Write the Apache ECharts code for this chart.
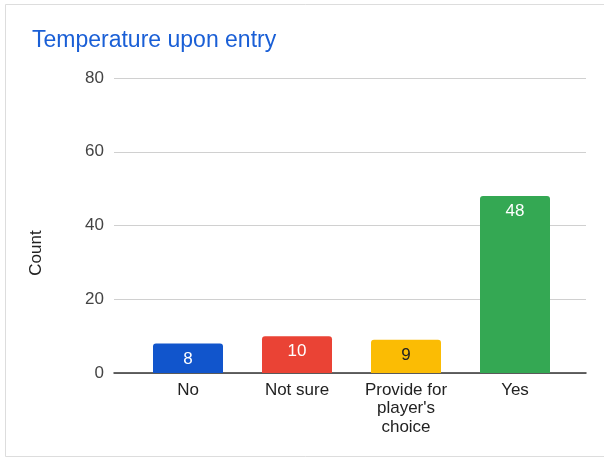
<!DOCTYPE html>
<html><head><meta charset="utf-8">
<script src="https://cdn.jsdelivr.net/npm/echarts@6/dist/echarts.min.js"></script>
<style>html,body{margin:0;padding:0;background:#fff}#c{width:604px;height:458px}</style>
</head><body><div id="c"></div>
<script>
const titleText = 'Temperature upon entry';
const categories = ['No', 'Not sure', "Provide for\nplayer's\nchoice", 'Yes'];
const counts = [8, 10, 9, 48];
const barColors = ['#1155cc', '#ea4335', '#fbbc04', '#34a853'];
const labelColors = ['#ffffff', '#ffffff', '#222222', '#ffffff'];
const yTicks = [0, 20, 40, 60, 80];
const yName = 'Count';

const chart = echarts.init(document.getElementById('c'), null, {renderer: 'canvas'});
const font = '"Liberation Sans", Arial, sans-serif';
chart.setOption({
  animation: false,
  backgroundColor: '#fff',
  textStyle: {fontFamily: font},
  title: {text: titleText, left: 27, top: 24,
    textStyle: {color: '#1a5fd6', fontSize: 23, fontWeight: 'normal', fontFamily: font}},
  graphic: [
    {type: 'rect', shape: {x: 5.5, y: 4.5, width: 610, height: 452},
      style: {fill: 'none', stroke: '#dddddd', lineWidth: 1}, silent: true},
    {type: 'text', x: 36, y: 253, rotation: Math.PI / 2,
      style: {text: yName, fill: '#222', font: '17px ' + font, textAlign: 'center', textVerticalAlign: 'middle'}}
  ],
  grid: [
    {left: 114, right: 18, top: 78, bottom: 85},
    {left: 133.5, right: 34.5, top: 78, bottom: 85}
  ],
  xAxis: [
    {gridIndex: 0, type: 'category', data: categories,
      axisLine: {show: true, lineStyle: {color: '#333', width: 1.5}},
      axisTick: {show: false}, axisLabel: {show: false}},
    {gridIndex: 1, type: 'category', data: categories,
      axisLine: {show: false}, axisTick: {show: false},
      axisLabel: {color: '#222', fontSize: 17, margin: 8, lineHeight: 18.5, fontFamily: font, interval: 0}}
  ],
  yAxis: [
    {gridIndex: 0, type: 'value', min: yTicks[0], max: yTicks[yTicks.length - 1], interval: 20,
      axisLine: {show: false}, axisTick: {show: false},
      axisLabel: {color: '#444', fontSize: 17, margin: 10, fontFamily: font},
      splitLine: {lineStyle: {color: '#d0d0d0', width: 1}}},
    {gridIndex: 1, type: 'value', min: yTicks[0], max: yTicks[yTicks.length - 1], interval: 20,
      show: false, splitLine: {show: false}}
  ],
  series: [{
    type: 'bar', xAxisIndex: 1, yAxisIndex: 1, barWidth: 70,
    data: counts.map((v, i) => ({value: v,
      itemStyle: {color: barColors[i], borderRadius: [3, 3, 0, 0]},
      label: {color: labelColors[i]}})),
    label: {show: true, position: 'insideTop', distance: 7, fontSize: 17, fontFamily: font}
  }]
});
</script></body></html>
